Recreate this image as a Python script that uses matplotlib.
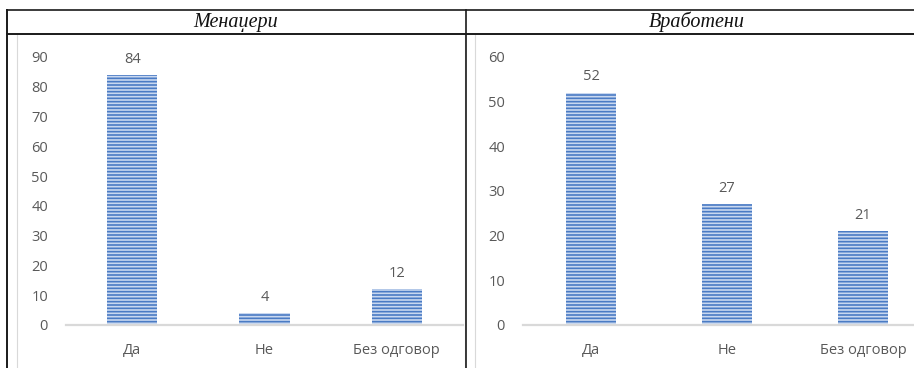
import matplotlib
matplotlib.use("Agg")
import matplotlib.pyplot as plt
from matplotlib.lines import Line2D

categories = ["Да", "Не", "Без одговор"]
managers = [84, 4, 12]
employees = [52, 27, 21]
managers_ticks = [0, 10, 20, 30, 40, 50, 60, 70, 80, 90]
employees_ticks = [0, 10, 20, 30, 40, 50, 60]
titles = ["Менаџери", "Вработени"]

W, H = 914, 368
plt.rcParams['font.family'] = ['Open Sans', 'DejaVu Sans']
plt.rcParams['hatch.linewidth'] = 1.2

fig = plt.figure(figsize=(W / 100, H / 100), dpi=100)

gray_txt = "#595959"
axis_gray = "#D9D9D9"


def px(x0, y0, x1, y1, **kw):
    # line in pixel coords (y from top)
    fig.add_artist(Line2D([x0 / W, x1 / W], [1 - y0 / H, 1 - y1 / H],
                          transform=fig.transFigure, **kw))


def panel(rect, values, ticks, bw):
    ax = fig.add_axes(rect)
    x = range(len(categories))
    bars = ax.bar(x, values, width=bw, color="#C9D8F0", edgecolor="#4A7BC4",
                  linewidth=0, hatch="-----")
    for b, v in zip(bars, values):
        ax.annotate(str(v), (b.get_x() + b.get_width() / 2, v),
                    xytext=(0, 6), textcoords="offset points",
                    ha="center", va="bottom", fontsize=10.5, color=gray_txt)
    ax.set_xlim(-0.5, len(categories) - 0.5)
    ax.set_ylim(0, ticks[-1])
    ax.set_yticks(ticks)
    ax.set_xticks(list(x))
    ax.set_xticklabels(categories)
    ax.tick_params(length=0, labelsize=10.5, colors=gray_txt)
    ax.tick_params(axis="y", pad=13)
    ax.tick_params(axis="x", pad=13)
    for s in ["top", "left", "right"]:
        ax.spines[s].set_visible(False)
    ax.spines["bottom"].set_color(axis_gray)
    ax.spines["bottom"].set_linewidth(1.6)
    ax.patch.set_alpha(0)
    return ax


bottom = (H - 325) / H
height = (325 - 57) / H
panel([66 / W, bottom, 397 / W, height], managers, managers_ticks, 0.38)
panel([523 / W, bottom, 408 / W, height], employees, employees_ticks, 0.37)

# chart frames
px(17, 35, 17, H, color=axis_gray, lw=0.8)
px(465, 35, 465, H, color=axis_gray, lw=0.8)
px(475, 35, 475, H, color=axis_gray, lw=0.8)

# table borders
px(7, 10, W, 10, color="#1a1a1a", lw=1.2)
px(7, 34, W, 34, color="#1a1a1a", lw=1.4)
px(7, 10, 7, H, color="#1a1a1a", lw=1.4)
px(466, 10, 466, H, color="#1a1a1a", lw=1.2)

fig.text(236 / W, 1 - 22 / H, titles[0], ha="center", va="center",
         fontsize=14.5, style="italic", family="Liberation Serif", color="#111111")
fig.text(697 / W, 1 - 22 / H, titles[1], ha="center", va="center",
         fontsize=14.5, style="italic", family="Liberation Serif", color="#111111")

fig.savefig("out.png", dpi=100)
